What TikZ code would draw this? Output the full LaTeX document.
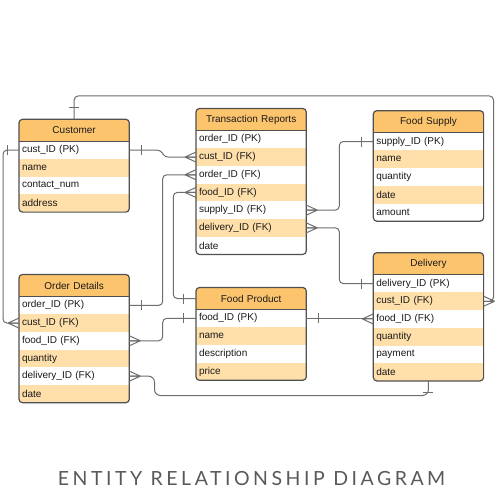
\documentclass[tikz,border=0pt]{standalone}
\usepackage{fontspec}
\setmainfont{Liberation Sans}
\newfontfamily\titlefont[LetterSpace=18]{Lato}
\usetikzlibrary{calc}
\definecolor{hdr}{HTML}{FDC46E}
\definecolor{peach}{HTML}{FFDFAA}
\definecolor{bord}{HTML}{505050}
\definecolor{lnk}{HTML}{6E6E6E}
\definecolor{txt}{HTML}{1A1A1A}
\tikzset{
  rowbox/.style={anchor=north west, minimum width=110.3pt, text width=104.3pt,
    minimum height=17.7pt, inner xsep=3pt, inner ysep=0pt, outer sep=0pt,
    align=left, text=txt, font=\fontsize{10}{12}\selectfont},
  hdrbox/.style={anchor=north west, minimum width=110.3pt, text width=104.3pt,
    minimum height=22pt, inner xsep=3pt, inner ysep=0pt, outer sep=0pt,
    align=center, fill=hdr, text=txt, font=\fontsize{10}{12}\selectfont},
  conn/.style={draw=lnk, line width=1pt, rounded corners=4pt},
  tickln/.style={draw=lnk, line width=1pt},
  boxline/.style={draw=bord, line width=1.2pt},
}
\newcommand\erentity[6]{%
  \pgfmathsetmacro\erh{22+#4*17.7}
  \begin{scope}
    \clip[rounded corners=3.5pt] (#2,#3) rectangle ++(110.3,\erh);
    \node[hdrbox] (#1-h) at (#2,#3) {#5};
    \foreach \t [count=\i] in {#6} {
      \ifodd\i\relax \def\rc{white}\else \def\rc{peach}\fi
      \pgfmathsetmacro\ry{#3+22+(\i-1)*17.7}
      \node[rowbox, fill=\rc] (#1-\i) at (#2,\ry) {\t};
    }
  \end{scope}
  \draw[boxline, rounded corners=3.5pt] (#2,#3) rectangle ++(110.3,\erh);
  \draw[boxline] (#1-h.south west) -- (#1-h.south east);
}
\newcommand\crowfoot[2]{%
  \draw[tickln] ($(#1)+(#2*11,0)$) -- ($(#1)+(0,-5)$)
                ($(#1)+(#2*11,0)$) -- (#1)
                ($(#1)+(#2*11,0)$) -- ($(#1)+(0,5)$);
}
\newcommand\ervbar[1]{\draw[tickln] ($(#1)+(0,-5)$) -- ($(#1)+(0,5)$);}
\newcommand\erhbar[1]{\draw[tickln] ($(#1)+(-5,0)$) -- ($(#1)+(5,0)$);}
\begin{document}
\begin{tikzpicture}[x=1pt,y=-1pt]
\useasboundingbox[fill=white] (0,0) rectangle (500,500);

% entities
\erentity{cus}{19}{119.3}{4}{Customer}{cust\_ID (PK),name,contact\_num,address}
\erentity{tr}{196}{108.5}{7}{Transaction Reports}{order\_ID (PK),cust\_ID (FK),order\_ID (FK),food\_ID (FK),supply\_ID (FK),delivery\_ID (FK),date}
\erentity{fs}{373.3}{110.7}{5}{Food Supply}{supply\_ID (PK),name,quantity,date,amount}
\erentity{del}{373.3}{252.7}{6}{Delivery}{delivery\_ID (PK),cust\_ID (FK),food\_ID (FK),quantity,payment,date}
\erentity{ord}{19}{274.5}{6}{Order Details}{order\_ID (PK),cust\_ID (FK),food\_ID (FK),quantity,delivery\_ID (FK),date}
\erentity{fp}{196}{287.5}{4}{Food Product}{food\_ID (PK),name,description,price}

% helper coordinates
\coordinate (topr) at (493.5,96);
\coordinate (lft) at (3,250);
\coordinate (bt1) at (154.5,395.5);

% connectors
\draw[conn] (cus-h.north) |- (topr) |- (del-2.east);
\draw[conn, rounded corners=3pt] (cus-1.east) -- ($(cus-1.east)+(31,0)$) -- ($(tr-2.west)+(-31,0)$) -- (tr-2.west);
\draw[conn] (cus-1.west) -| (lft) |- (ord-2.west);
\draw[conn] (ord-1.east) -| ($(tr-3.west)+(-33.3,0)$) -- (tr-3.west);
\draw[conn] (fp-h.west) -| ($(tr-4.west)+(-22.7,0)$) -- (tr-4.west);
\draw[conn] (tr-5.east) -| ($(fs-1.west)+(-34,0)$) -- (fs-1.west);
\draw[conn] (tr-6.east) -| ($(del-1.west)+(-34,0)$) -- (del-1.west);
\draw[conn] (fp-1.east) -- (fp-1.east -| del-3.west);
\draw[conn] (ord-3.east) -| ($(fp-1.west)+(-33.3,0)$) -- (fp-1.west);
\draw[conn, rounded corners=6pt] (ord-5.east) -| (bt1) -| (del-6.south);

% one-side bars
\erhbar{$(cus-h.north)+(0,-12)$}
\ervbar{$(cus-1.east)+(12,0)$}
\ervbar{$(cus-1.west)+(-12,0)$}
\ervbar{$(ord-1.east)+(12,0)$}
\ervbar{$(fp-h.west)+(-12.7,0)$}
\ervbar{$(fs-1.west)+(-12,0)$}
\ervbar{$(del-1.west)+(-12,0)$}
\ervbar{$(fp-1.east)+(12,0)$}
\ervbar{$(fp-1.west)+(-12.7,0)$}
\erhbar{$(del-6.south)+(0,12)$}

% many-side crow's feet
\crowfoot{del-2.east}{1}
\crowfoot{tr-2.west}{-1}
\crowfoot{ord-2.west}{-1}
\crowfoot{tr-3.west}{-1}
\crowfoot{tr-4.west}{-1}
\crowfoot{tr-5.east}{1}
\crowfoot{tr-6.east}{1}
\crowfoot{del-3.west}{-1}
\crowfoot{ord-3.east}{1}
\crowfoot{ord-5.east}{1}

% title
\node[font=\titlefont\fontsize{19.5}{22}\selectfont, text=black!65, anchor=base] (title) at (251.5,485.7) {ENTITY RELATIONSHIP DIAGRAM};
\end{tikzpicture}
\end{document}
